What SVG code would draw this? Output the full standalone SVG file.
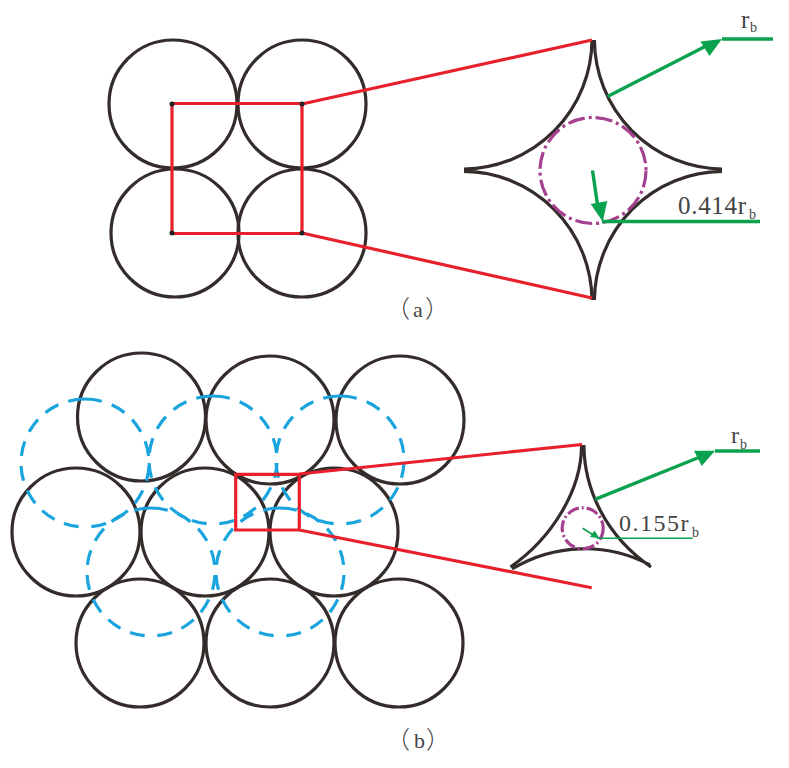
<svg xmlns="http://www.w3.org/2000/svg" width="789" height="768" viewBox="0 0 789 768">
<style>
.c{fill:none;stroke:#332c2b;stroke-width:3.2}
.d{fill:none;stroke:#19a4de;stroke-width:3.2;stroke-dasharray:17 10.500 15 10.300 15 10.300 15 10.300 15 10.300 15 10.300 15 10.300 15 40}
.r{fill:none;stroke:#e8202c;stroke-width:3.200}
.g{fill:none;stroke:#0aa14f;stroke-width:3.400}
.gt{fill:none;stroke:#0aa14f;stroke-width:1.600}
.gh{fill:#0aa14f}
.p{fill:none;stroke:#a53f8f;stroke-width:3.200;stroke-dasharray:17 4 3 4}
.ps{stroke-dasharray:12 3 2 3}
.t{font-family:"Liberation Serif",serif;fill:#444}
.k{font-family:"Noto Sans CJK SC",sans-serif;font-weight:300;fill:#444}
</style>
<defs>
<path id="dash" class="d" d="M0 -64A64 64 0 0 1 0 64M0 -64A64 64 0 0 0 0 64"/>
</defs>
<rect width="789" height="768" fill="#fff"/>
<g id="panel-a-circles">
<circle id="a1" class="c" cx="173" cy="104" r="64"/>
<circle id="a2" class="c" cx="302" cy="104" r="64"/>
<circle id="a3" class="c" cx="175" cy="233" r="64"/>
<circle id="a4" class="c" cx="302" cy="233" r="64"/>
</g>
<g id="panel-a-detail">
<path class="c" d="M592 40A129 130 0 0 1 464 169M594.400 40A129 130 0 0 0 722 169M592 300A129 130 0 0 0 464 171.400M594.400 300A129 130 0 0 1 722 171.400"/>
<circle class="p" cx="593" cy="170.500" r="53"/>
</g>
<g id="connectors-a">
<path class="r" d="M172 103.500H302V233.500H172ZM302 104L592 40M302 233L592 298"/>
<g fill="#222"><circle cx="172" cy="104" r="2.500"/><circle cx="302" cy="104" r="2.500"/><circle cx="172" cy="233" r="2.500"/><circle cx="302" cy="233" r="2.500"/></g>
<path class="g" d="M607.500 96.500L708 45M722 39H773M592.500 170.500L598 208M602 221.500H760"/>
<polygon class="gh" points="722,39 700.500,41.500 709.500,56"/>
<polygon class="gh" points="602.700,221.700 590.700,204 607.300,201"/>
</g>
<g id="panel-b-circles">
<circle id="b1" class="c" cx="141.500" cy="417" r="64"/>
<circle id="b2" class="c" cx="270" cy="420" r="64"/>
<circle id="b3" class="c" cx="400" cy="420" r="64"/>
<circle id="b4" class="c" cx="76" cy="532" r="64"/>
<circle id="b5" class="c" cx="205" cy="532" r="64"/>
<circle id="b6" class="c" cx="334" cy="532" r="64"/>
<circle id="b7" class="c" cx="140" cy="643" r="64"/>
<circle id="b8" class="c" cx="270" cy="643" r="64"/>
<circle id="b9" class="c" cx="399" cy="643" r="64"/>
</g>
<g id="panel-b-dashed">
<use href="#dash" x="85" y="463"/>
<use href="#dash" x="213" y="460"/>
<use href="#dash" x="340" y="460"/>
<use href="#dash" x="151" y="572"/>
<use href="#dash" x="280" y="572"/>
</g>
<g id="panel-b-detail">
<path class="c" d="M581.500 445C581.800 490 552 538 510.500 567M583.900 445C584.200 490 606 536 651 567M512 569A140 140 0 0 1 650 565"/>
<circle class="p ps" cx="582.700" cy="528.300" r="20.500"/>
</g>
<g id="connectors-b">
<path class="r" d="M235.700 474.300H299.300V530H235.700ZM299 474L582 444.500M299.300 530L591.700 587.700"/>
<path class="g" d="M595 499.300L700 457M715 451H760"/>
<polygon class="gh" points="715,450.700 694,450.700 701.700,466"/>
<path class="gt" d="M582.700 528.300L595 536M597 538.300H692.700"/>
<polygon class="gh" points="599.300,538.300 590,537 594.500,530.500"/>
</g>
<g id="labels">
<text class="t" x="741" y="28" font-size="25">r</text><text class="t" x="750" y="32" font-size="14">b</text>
<text class="t" x="678" y="214" font-size="25" letter-spacing="0.700">0.414r</text><text class="t" x="749" y="219" font-size="14">b</text>
<text class="t" x="731" y="443" font-size="24">r</text><text class="t" x="740" y="449" font-size="14">b</text>
<text class="t" x="619" y="531" font-size="24" letter-spacing="1.500">0.155r</text><text class="t" x="692" y="537" font-size="14">b</text>
<text x="386" y="317" font-size="24" class="k">（</text><text class="t" x="413" y="317" font-size="22">a</text><text class="k" x="425" y="317" font-size="24">）</text>
<text x="386" y="748" font-size="24" class="k">（</text><text class="t" x="414" y="748" font-size="22">b</text><text class="k" x="426" y="748" font-size="24">）</text>
</g>
</svg>
